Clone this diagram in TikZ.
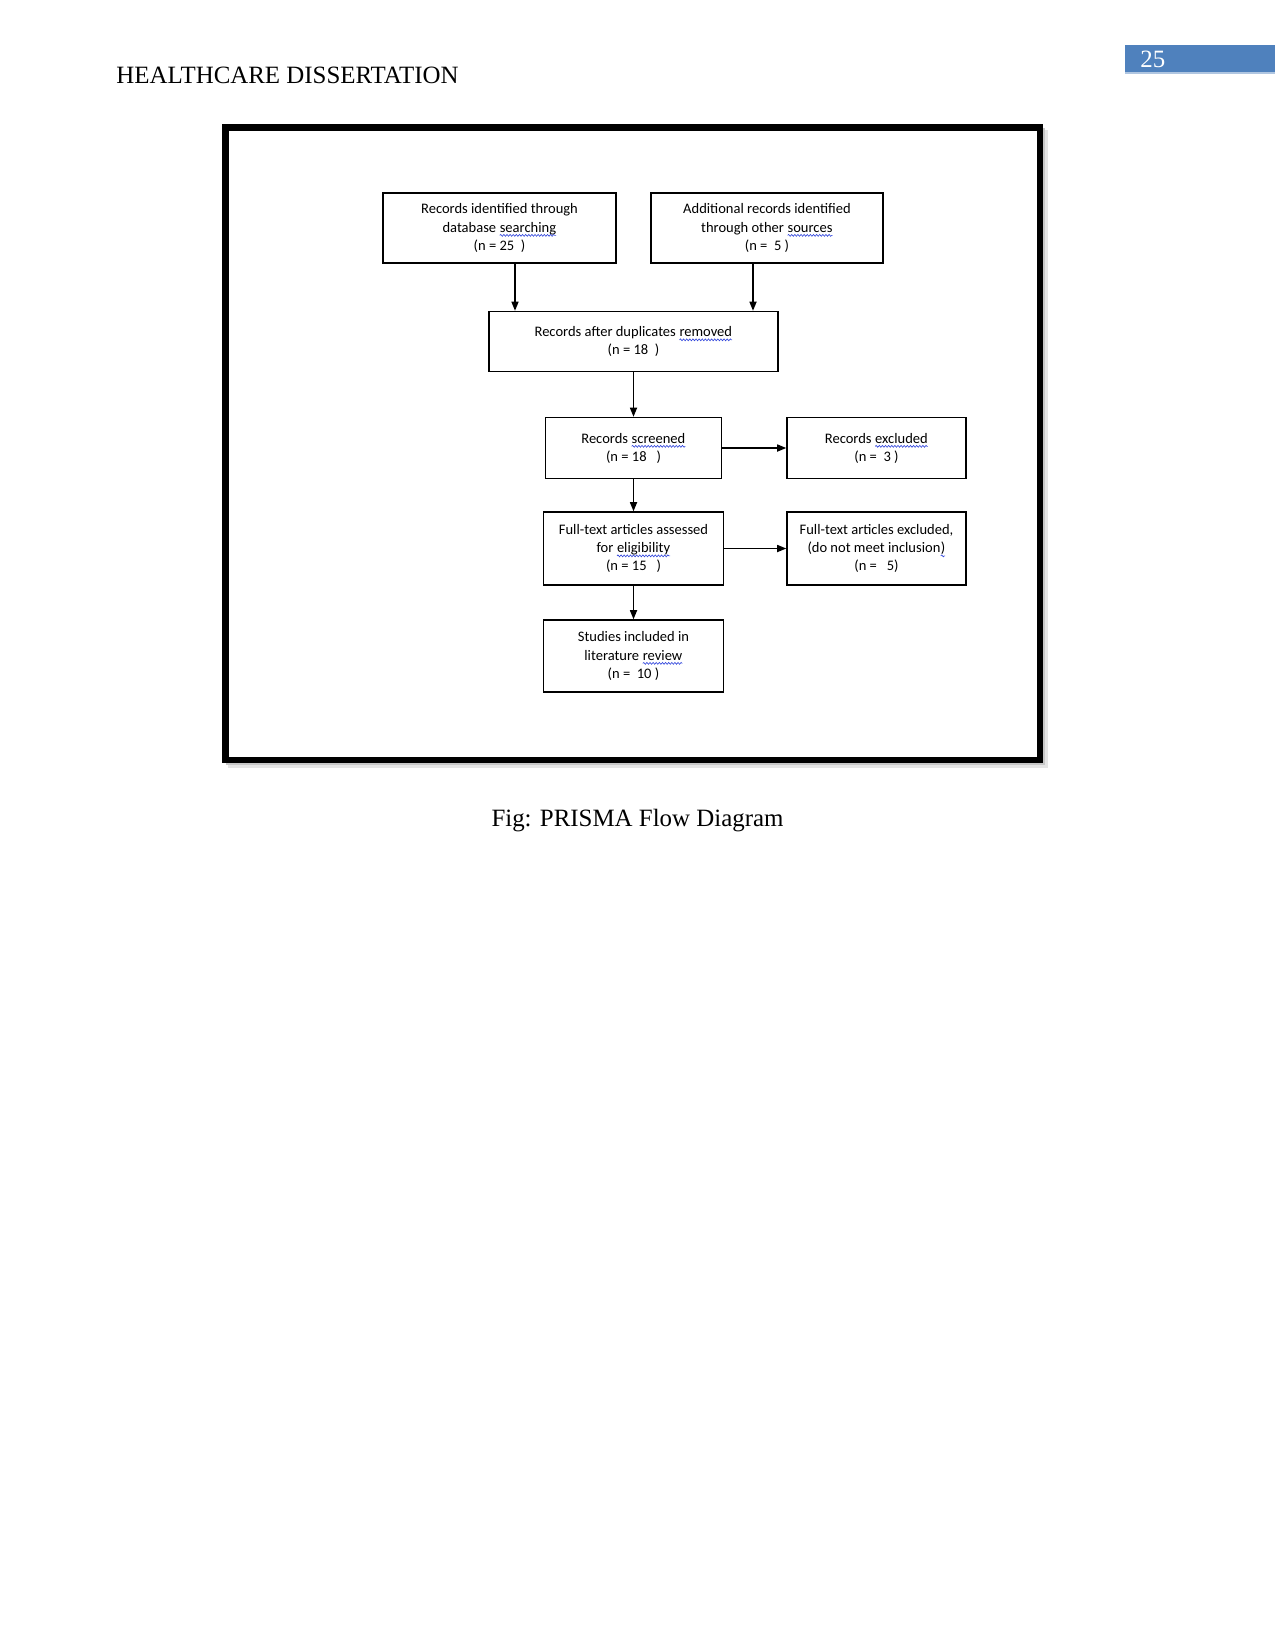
\documentclass[tikz,border=0pt]{standalone}
\usepackage{fontspec}
\setmainfont{Liberation Serif}
\newfontfamily\boxfont{Carlito}
\usetikzlibrary{arrows.meta, positioning, calc, decorations.pathmorphing}

\definecolor{pageblue}{HTML}{4F81BD}
\definecolor{spellblue}{RGB}{50,70,220}
\newcommand{\spellmark}[1]{\tikz[baseline=(spw.base), x=1pt, y=1pt]{%
  \node[inner sep=0pt, outer sep=0pt, minimum width=0pt, minimum height=0pt,
    draw=none, fill=none, align=left] (spw) {#1};
  \draw[spellblue, line width=0.3pt, decorate,
    decoration={snake, amplitude=0.45pt, segment length=1.5pt}]
    ([yshift=-1.6pt]spw.base west) -- ([yshift=-1.6pt]spw.base east);}}
\newlength{\pxu}\setlength{\pxu}{0.16933mm}

\begin{document}
\begin{tikzpicture}[x=\pxu, y=-\pxu, >={Triangle[length=4.4pt,width=3.4pt]},
  flowbox/.style={draw, line width=0.7pt, fill=white, align=center, inner sep=0pt,
    font=\boxfont\fontsize{7}{8.7}\selectfont},
  flowarrow/.style={->, line width=0.7pt},
  pagetext/.style={inner sep=0pt, font=\fontsize{12}{14.4}\selectfont}]
  \useasboundingbox (0,0) rectangle (1275,1650);

  % Page header
  \node[pagetext, anchor=base west] (header) at (116,83) {HEALTHCARE DISSERTATION};
  \fill[pageblue] (1125,45) rectangle (1275,72);
  \fill[pageblue!45] (1125,72) rectangle (1275,74);
  \node[pagetext, anchor=base west, text=white] (pagenum) at (1140,67.5) {25};

  % Frame with shadow
  \fill[black!10] (228,130) rectangle (1048,768);
  \fill[black!22] (226,128) rectangle (1045,765);
  \draw[line width=6.5*\pxu, fill=white] (225.25,127.25) rectangle (1039.75,759.75);

  % Identification
  \node[flowbox, minimum width=233*\pxu, minimum height=70*\pxu] (dbsearch) at (499.5,228)
    {Records identified through\\database \spellmark{searching}\\(n = 25~~)};
  \node[flowbox, minimum width=232*\pxu, minimum height=70*\pxu] (othersrc) at (767,228)
    {Additional records identified\\through other \spellmark{sources}\\(n = ~5 )};
  \node[flowbox, minimum width=289*\pxu, minimum height=60*\pxu] (dedup) at (633.5,341.5)
    {Records after duplicates \spellmark{removed}\\(n = 18~~)};

  % Screening
  \node[flowbox, minimum width=176*\pxu, minimum height=61*\pxu] (screened) at (633.5,448)
    {Records \spellmark{screened}\\(n = 18~~~)};
  \node[flowbox, minimum width=179*\pxu, minimum height=61*\pxu] (excluded) at (876.5,448)
    {Records \spellmark{excluded}\\(n = ~3 )};

  % Eligibility
  \node[flowbox, minimum width=180*\pxu, minimum height=73*\pxu] (fulltext) at (633.5,548.5)
    {Full-text articles assessed\\for \spellmark{eligibility}\\(n = 15~~~)};
  \node[flowbox, minimum width=179*\pxu, minimum height=73*\pxu] (ftexcluded) at (876.5,548.5)
    {Full-text articles excluded,\\(do not meet inclusion\spellmark{)}\\(n = ~~5)};

  % Included
  \node[flowbox, minimum width=180*\pxu, minimum height=72*\pxu] (included) at (633.5,656)
    {Studies included in\\literature \spellmark{review}\\(n = ~10 )};

  % Connectors
  \draw[flowarrow] ([xshift=15.5*\pxu]dbsearch.south) -- ([xshift=15.5*\pxu]dbsearch.south |- dedup.north);
  \draw[flowarrow] ([xshift=-14*\pxu]othersrc.south) -- ([xshift=-14*\pxu]othersrc.south |- dedup.north);
  \draw[flowarrow] (dedup.south) -- (screened.north);
  \draw[flowarrow] (screened.east) -- (excluded.west);
  \draw[flowarrow] (screened.south) -- (fulltext.north);
  \draw[flowarrow] (fulltext.east) -- (ftexcluded.west);
  \draw[flowarrow] (fulltext.south) -- (included.north);

  % Caption
  \node[pagetext, anchor=base] (caption) at (637.5,826) {Fig: PRISMA Flow Diagram};
\end{tikzpicture}
\end{document}
